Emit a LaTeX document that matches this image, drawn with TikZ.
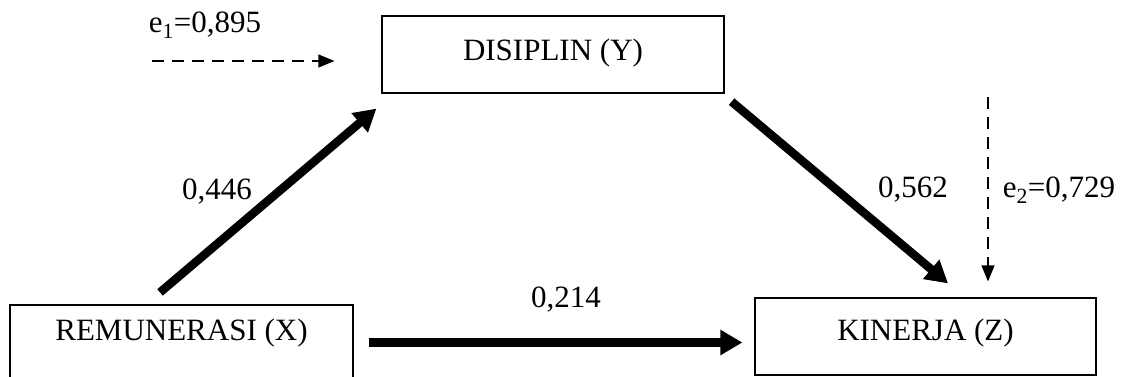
\documentclass[tikz,border=0pt]{standalone}
\usepackage{fontspec}
\setmainfont{Liberation Serif}
\usetikzlibrary{arrows.meta}
\begin{document}
\begin{tikzpicture}[x=1pt,y=-1pt,
  every node/.style={font=\fontsize{31}{36}\selectfont, inner sep=0pt},
  varbox/.style={draw, line width=1.2pt, minimum width=#1, minimum height=77pt},
  bigarrow/.style={line width=8.5pt, -{Triangle[length=22pt,width=24pt]}},
  errarrow/.style={line width=1.3pt, dash pattern=on 12pt off 8pt, -{Triangle[length=16pt,width=13pt]}},
  coef/.style={anchor=center}]
\useasboundingbox (0,0) rectangle (1126,376);
\node[varbox=342pt, text depth=9.5pt] (Y) at (553,54.5) {DISIPLIN (Y)};
\node[varbox=343pt, minimum height=75pt, text depth=25.5pt] (X) at (181.5,342.5) {REMUNERASI (X)};
\node[varbox=341pt, text depth=13.5pt] (Z) at (925.5,336.5) {KINERJA (Z)};
% main paths
\draw[bigarrow] ([xshift=-21.5pt,yshift=12pt]X.north) -- ([xshift=-5pt,yshift=-15pt]Y.south west);
\draw[bigarrow] ([xshift=7pt,yshift=-8pt]Y.south east) -- ([xshift=22.5pt,yshift=14pt]Z.north);
\draw[bigarrow] ([xshift=15pt]X.east) -- ([xshift=-12pt]X.east -| Z.west);
% error terms
\coordinate (e1s) at (152,61);
\coordinate (e2s) at (988,97);
\draw[errarrow] (e1s) -- ([xshift=-47pt]e1s -| Y.west);
\draw[errarrow] (e2s) -- ([yshift=16pt]e2s |- Z.north);
% labels
\node[coef] (le1) at (205,25) {e\textsubscript{1}=0,895};
\node[coef] (le2) at (1059,190) {e\textsubscript{2}=0,729};
\node[coef] (lxy) at (217,192) {0,446};
\node[coef] (lyz) at (913,190) {0,562};
\node[coef] (lxz) at (566,300) {0,214};
\end{tikzpicture}
\end{document}
